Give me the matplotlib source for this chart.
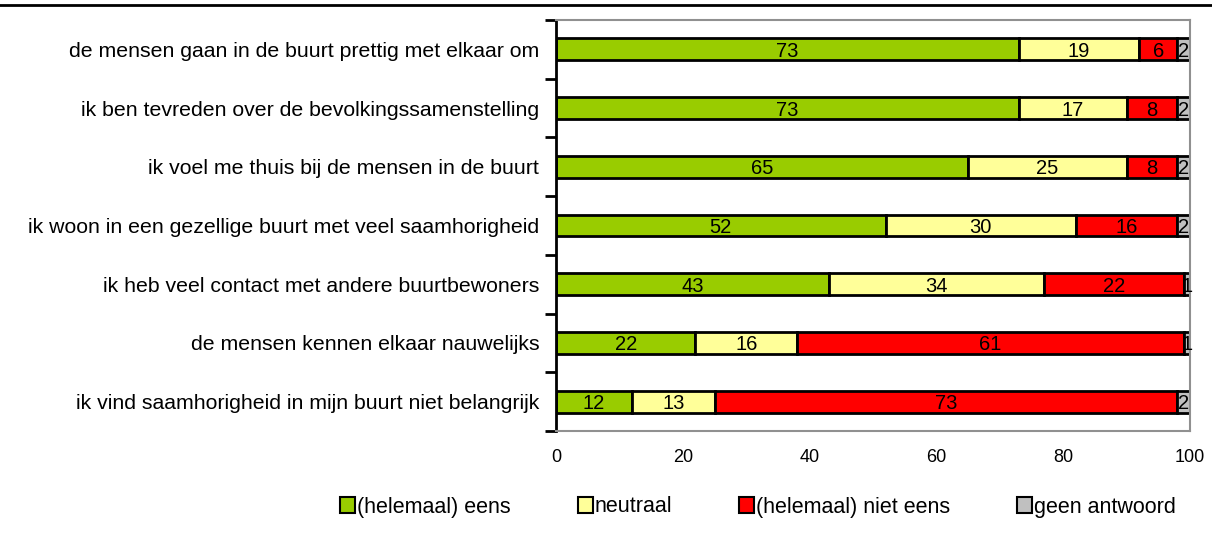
import matplotlib.pyplot as plt
from matplotlib.patches import Patch
from matplotlib.lines import Line2D

plt.rcParams["font.family"] = ["Liberation Sans", "DejaVu Sans"]

# =========================
# DATA
# =========================
statements = [
    "de mensen gaan in de buurt prettig met elkaar om",
    "ik ben tevreden over de bevolkingssamenstelling",
    "ik voel me thuis bij de mensen in de buurt",
    "ik woon in een gezellige buurt met veel saamhorigheid",
    "ik heb veel contact met andere buurtbewoners",
    "de mensen kennen elkaar nauwelijks",
    "ik vind saamhorigheid in mijn buurt niet belangrijk",
]
eens = [73, 73, 65, 52, 43, 22, 12]
neutraal = [19, 17, 25, 30, 34, 16, 13]
niet_eens = [6, 8, 8, 16, 22, 61, 73]
geen_antwoord = [2, 2, 2, 2, 1, 1, 2]

series_names = ["(helemaal) eens", "neutraal", "(helemaal) niet eens", "geen antwoord"]
series_colors = ["#99CC00", "#FFFF99", "#FF0000", "#C0C0C0"]

# =========================
# FIGURE
# =========================
fig = plt.figure(figsize=(12.12, 5.39), dpi=100)
ax = fig.add_axes([556 / 1212, 1 - 431 / 539, (1190 - 556) / 1212, (431 - 20) / 539])

ypos = list(range(len(statements)))
left = [0] * len(statements)
for values, color in zip([eens, neutraal, niet_eens, geen_antwoord], series_colors):
    bars = ax.barh(ypos, values, left=left, height=0.37, color=color,
                   edgecolor="black", linewidth=2)
    for bar, v, l, y in zip(bars, values, left, ypos):
        t = ax.text(l + v / 2, y, str(v), ha="center", va="center_baseline",
                    fontsize=14.5, color="black")
        t.set_clip_path(bar)
    left = [a + b for a, b in zip(left, values)]

ax.set_xlim(0, 100)
ax.set_ylim(len(statements) - 0.5, -0.5)

# category labels without ticks, tick marks between categories
ax.set_yticks(ypos)
ax.set_yticklabels(statements, fontsize=15.3)
ax.tick_params(axis="y", which="major", length=0, pad=12)
ax.set_yticks([i - 0.5 for i in range(len(statements) + 1)], minor=True)
ax.tick_params(axis="y", which="minor", length=8, width=2, direction="out")

ax.set_xticks([0, 20, 40, 60, 80, 100])
ax.tick_params(axis="x", length=0, labelsize=13, pad=13)

ax.spines["left"].set_linewidth(2)
ax.spines["left"].set_color("black")
for side in ["top", "right", "bottom"]:
    ax.spines[side].set_color("#909090")
    ax.spines[side].set_linewidth(1.5)

# =========================
# TOP RULE
# =========================
fig.add_artist(Line2D([0, 1], [1 - 5 / 539, 1 - 5 / 539], color="black",
                      linewidth=2, transform=fig.transFigure))

# =========================
# LEGEND
# =========================
legend_elements = [
    Patch(facecolor=c, edgecolor="black", linewidth=1.5, label=n)
    for n, c in zip(series_names, series_colors)
]
fig.legend(handles=legend_elements, loc="center left", ncol=4,
           bbox_to_anchor=(340 / 1212, 1 - 507 / 539), frameon=False,
           fontsize=15.5, handlelength=0.7, handleheight=0.7,
           handletextpad=0.1, columnspacing=3.1, borderpad=0, borderaxespad=0)

plt.savefig("out.png", dpi=100)
